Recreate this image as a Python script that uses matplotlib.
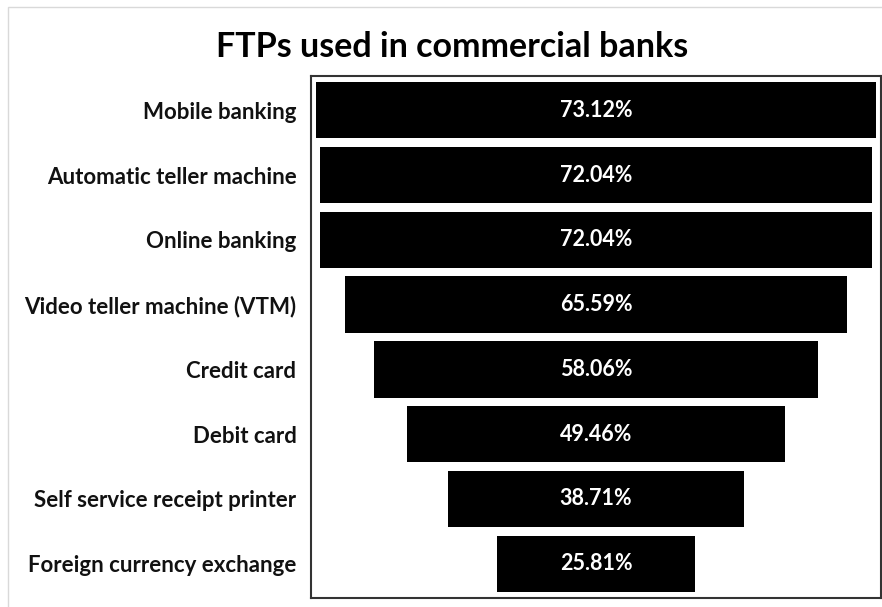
import matplotlib.pyplot as plt
from matplotlib.patches import Rectangle

categories = ["Mobile banking", "Automatic teller machine", "Online banking",
              "Video teller machine (VTM)", "Credit card", "Debit card",
              "Self service receipt printer", "Foreign currency exchange"]
values = [73.12, 72.04, 72.04, 65.59, 58.06, 49.46, 38.71, 25.81]

plt.rcParams['font.family'] = ['Lato', 'DejaVu Sans']

fig = plt.figure(figsize=(8.82, 6.07), dpi=100)
fig.patches.append(Rectangle((8 / 882, -0.1), 1.2, 1 - 7 / 607 + 0.1,
                             transform=fig.transFigure, fill=False,
                             edgecolor="#d9d9d9", linewidth=1))
ax = fig.add_axes([311 / 882, 9 / 607, 570 / 882, 522 / 607])

y = list(range(len(categories)))
lefts = [-v / 2 for v in values]
ax.barh(y, values, left=lefts, height=0.87, color="black")
for yi, v in zip(y, values):
    ax.text(0, yi, f"{v:.2f}%", color="white", ha="center", va="center",
            fontsize=15.5, fontweight="bold")

ax.set_xlim(-37.2, 37.2)
ax.set_ylim(len(categories) - 0.47, -0.53)
ax.set_xticks([])
ax.set_yticks(y)
ax.set_yticklabels(categories, fontsize=16, fontweight="bold", color="#111111")
ax.tick_params(axis="y", length=0, pad=10.5)
for s in ax.spines.values():
    s.set_linewidth(1.5)
    s.set_color("#333333")

fig.text(452 / 882, 1 - 47 / 607, "FTPs used in commercial banks",
         ha="center", va="center", fontsize=24.5, fontweight="bold")

fig.savefig("out.png", dpi=100)
